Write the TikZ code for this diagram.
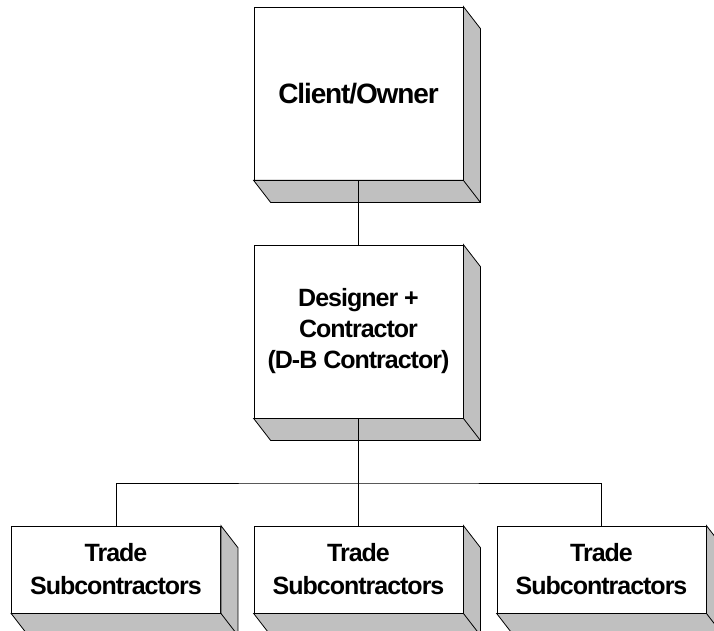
\documentclass[tikz,border=0pt]{standalone}
\usepackage{fontspec}
\setmainfont{Liberation Sans}
\usetikzlibrary{calc}
\definecolor{shade}{RGB}{192,192,192}
\begin{document}
\begin{tikzpicture}[x=1pt,y=-1pt,line join=miter,line width=0.8pt,
		font=\fontsize{25}{31}\selectfont\bfseries\addfontfeature{LetterSpace=-4},
		block/.style={draw,fill=white,align=center,inner sep=0pt,minimum width=209pt},
		tall/.style={block,minimum height=173pt},
		flat/.style={block,minimum height=87pt,font=\fontsize{25}{33}\selectfont\bfseries\addfontfeature{LetterSpace=-4}}]
	\useasboundingbox (0,0) rectangle (714,631);
	\node[tall,font=\fontsize{28}{33}\selectfont\bfseries\addfontfeature{LetterSpace=-4}] (owner) at (358.5,93.5) {Client/Owner};
	\node[tall] (db) at (358.5,331.5) {Designer +\\Contractor\\(D-B Contractor)};
	\node[flat] (tradeL) at (116,569.5) {Trade\\Subcontractors};
	\node[flat] (tradeM) at (358.5,569.5) {Trade\\Subcontractors};
	\node[flat] (tradeR) at (601.5,569.5) {Trade\\Subcontractors};
	\foreach \n in {owner,db,tradeL,tradeM,tradeR}{
		\filldraw[fill=shade] (\n.north east) -- ++(17,22) -- ($(\n.south east)+(17,22)$) -- ($(\n.south west)+(17,22)$) -- (\n.south west) -- (\n.south east) -- cycle;
		\draw (\n.south east) -- ++(17,22);
	}
	\coordinate (bus) at (358.5,483);
	\draw (owner.south) -- (db.north);
	\draw (db.south) -- (tradeM.north) (tradeL.north) |- (bus) -| (tradeR.north);
\end{tikzpicture}
\end{document}
